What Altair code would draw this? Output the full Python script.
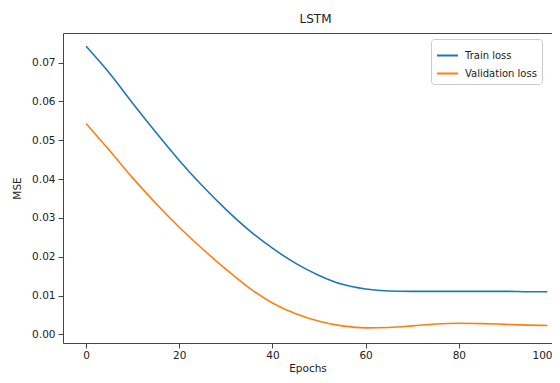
import altair as alt
import pandas as pd

epochs = [0, 5, 10, 15, 20, 25, 30, 35, 40, 45, 50, 55, 60, 65, 70, 75, 80, 85, 90, 95, 99]
train_loss = [0.0742, 0.0673, 0.0595, 0.0520, 0.0448, 0.0382, 0.0322, 0.0268, 0.0222, 0.0183,
              0.0152, 0.0129, 0.0117, 0.0112, 0.0111, 0.0111, 0.0111, 0.0111, 0.0111, 0.0110, 0.0110]
val_loss = [0.0543, 0.0474, 0.0403, 0.0337, 0.0276, 0.0220, 0.0168, 0.0120, 0.0081, 0.0053,
            0.0034, 0.0022, 0.0017, 0.0018, 0.0022, 0.0027, 0.0029, 0.0028, 0.0026, 0.0024, 0.0023]
series_names = ["Train loss", "Validation loss"]
series_colors = ["#1f77b4", "#ff7f0e"]
x_ticks = [0, 20, 40, 60, 80, 100]
y_ticks = [0.00, 0.01, 0.02, 0.03, 0.04, 0.05, 0.06, 0.07]

rows = []
for e, v in zip(epochs, train_loss):
    rows.append({"epoch": e, "loss": v, "series": series_names[0]})
for e, v in zip(epochs, val_loss):
    rows.append({"epoch": e, "loss": v, "series": series_names[1]})
df = pd.DataFrame(rows)

font = "DejaVu Sans"
x_scale = alt.Scale(domain=[-4.95, 100.0], nice=False, zero=False)
y_scale = alt.Scale(domain=[-0.0022, 0.0776], nice=False, zero=False)

lines = alt.Chart(df).mark_line(strokeWidth=1.6, interpolate="monotone", clip=True).encode(
    x=alt.X("epoch:Q", scale=x_scale,
            axis=alt.Axis(values=x_ticks, title="Epochs", grid=False, domain=True,
                          tickSize=5, labelPadding=2, titlePadding=3, labelFlush=True)),
    y=alt.Y("loss:Q", scale=y_scale,
            axis=alt.Axis(values=y_ticks, format=".2f", title="MSE", grid=False, domain=True,
                          tickSize=5, labelPadding=3, titlePadding=9)),
    color=alt.Color("series:N",
                    scale=alt.Scale(domain=series_names, range=series_colors),
                    legend=alt.Legend(title=None, orient="none", legendX=368, legendY=6,
                                      symbolType="stroke", symbolStrokeWidth=2, symbolSize=441,
                                      labelFontSize=10, labelFont=font, labelColor="#222",
                                      fillColor="white", strokeColor="#ccc", padding=5,
                                      cornerRadius=3, rowPadding=1, labelOffset=6)),
)

top_spine = alt.Chart(df).mark_line(opacity=0).encode(
    x=alt.X("epoch:Q", scale=x_scale,
            axis=alt.Axis(orient="top", labels=False, ticks=False, domain=True,
                          title=None, grid=False)),
    y=alt.Y("loss:Q", scale=y_scale),
    detail="series:N",
)

chart = alt.layer(top_spine, lines).resolve_axis(x="independent").properties(
    width=489,
    height=310,
    title=alt.TitleParams("LSTM", fontSize=12, fontWeight="normal", font=font,
                          color="#222", offset=7, dx=8),
    autosize=alt.AutoSizeParams(type="none"),
    padding={"left": 55, "top": 25, "right": 0, "bottom": 32},
).configure_view(
    strokeWidth=0
).configure_axis(
    labelFont=font, titleFont=font, labelFontSize=10.5, titleFontSize=10.5,
    labelColor="#222", titleColor="#222", tickColor="#444", domainColor="#444",
    domainWidth=1, titleFontWeight="normal"
)

chart.save("out.html", embed_options={"renderer": "svg", "actions": False})
